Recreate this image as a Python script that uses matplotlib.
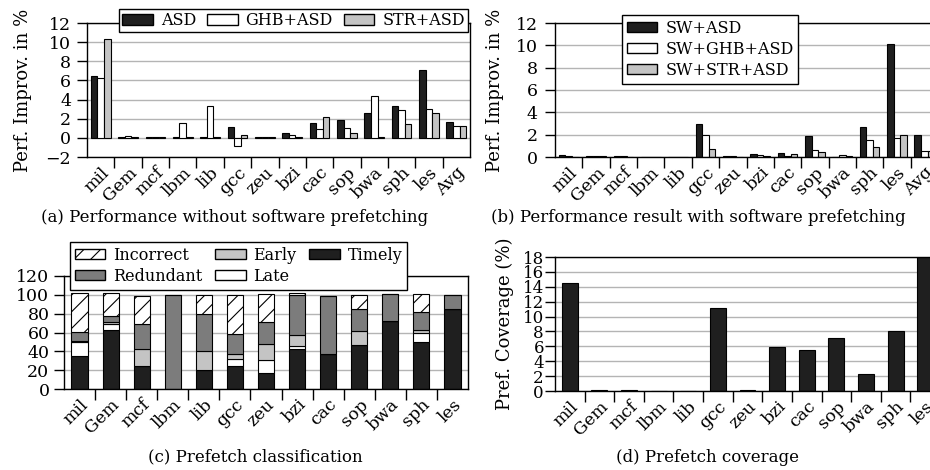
import numpy as np
import matplotlib.pyplot as plt
from matplotlib.patches import Patch
from matplotlib.transforms import ScaledTranslation

plt.rcParams['font.family'] = 'DejaVu Serif'
plt.rcParams['font.size'] = 12.5
plt.rcParams['hatch.linewidth'] = 0.8

bench = ["mil", "Gem", "mcf", "lbm", "lib", "gcc", "zeu", "bzi", "cac", "sop", "bwa", "sph", "les"]
bench_avg = bench + ["Avg"]

# (a) performance without software prefetching
asd = [6.5, 0.05, 0.1, 0.05, 0.05, 1.1, 0.1, 0.5, 1.6, 1.85, 2.6, 3.3, 7.1, 1.65]
ghb_asd = [6.3, 0.2, 0.1, 1.6, 3.3, -0.8, 0.1, 0.35, 0.9, 1.0, 4.35, 2.9, 3.0, 1.2]
str_asd = [10.3, 0.1, 0.05, 0.05, 0.05, 0.35, 0.05, 0.1, 2.2, 0.5, 0.05, 1.4, 2.6, 1.2]

# (b) performance with software prefetching
sw_asd = [0.15, 0.05, 0.08, 0.02, 0.02, 3.0, 0.05, 0.3, 0.35, 1.85, 0.03, 2.65, 10.1, 2.0]
sw_ghb_asd = [0.05, 0.1, 0.05, 0.02, 0.02, 2.0, 0.05, 0.15, 0.1, 0.65, 0.15, 1.5, 1.7, 0.55]
sw_str_asd = [0.03, 0.05, 0.02, 0.02, 0.02, 0.7, 0.03, 0.05, 0.3, 0.45, 0.05, 0.9, 2.0, 0.5]

# (c) prefetch classification (%)
timely = [35, 63, 24, 0, 20, 24, 17, 42, 37, 47, 72, 50, 85]
late = [15, 6, 0, 0, 0, 8, 14, 4, 0, 0, 0, 9, 0]
early = [0.5, 2, 18, 0, 20, 5, 17, 11, 0, 15, 0, 4, 0]
redundant = [10, 6, 27, 100, 40, 21, 23, 43, 62, 23, 29, 19, 15]
incorrect = [41, 25, 30, 0, 20, 42, 30, 2, 0, 15, 0, 19, 0]

# (d) prefetch coverage (%)
coverage = [14.45, 0.15, 0.2, 0.05, 0.05, 11.2, 0.2, 5.87, 5.46, 7.07, 2.24, 8.06, 18.5]

BLACK = '#1f1f1f'
LGRAY = '#c4c4c4'
DGRAY = '#7c7c7c'
LEG_FS = 11.5
CAP_FS = 12

fig = plt.figure(figsize=(9.3, 4.7), dpi=100)
shift = ScaledTranslation(-5 / 72, 0, fig.dpi_scale_trans)


def style_axis(ax, labels, ylim, yticks, ypad):
    n = len(labels)
    ax.set_xlim(-0.5, n - 0.5)
    ax.set_ylim(*ylim)
    ax.set_yticks(yticks)
    ax.set_xticks(np.arange(n - 1) + 0.5)
    ax.set_xticklabels([])
    ax.set_xticks(np.arange(n), minor=True)
    ax.set_xticklabels(labels, minor=True, rotation=45, ha='right', rotation_mode='anchor')
    for lab in ax.get_xticklabels(minor=True):
        lab.set_transform(lab.get_transform() + shift)
    ax.tick_params(axis='x', which='major', length=8, width=1)
    ax.tick_params(axis='x', which='minor', length=0, pad=5)
    ax.tick_params(axis='y', length=7.5, width=1, pad=ypad)
    ax.yaxis.grid(True, color='#b4b4b4', lw=1)
    ax.set_axisbelow(True)
    for s in ax.spines.values():
        s.set_linewidth(1)


def grouped(ax, series, colors):
    x = np.arange(len(series[0]))
    w = 0.24
    for i, (vals, c) in enumerate(zip(series, colors)):
        ax.bar(x + (i - 1) * w, vals, w, color=c, edgecolor='black', lw=0.8)


leg_kw = dict(bbox_transform=fig.transFigure, fancybox=False, framealpha=1,
              edgecolor='black', handlelength=1.9, handleheight=0.6,
              handletextpad=0.5, borderaxespad=0, fontsize=LEG_FS)

# (a)
ax1 = fig.add_axes([87 / 930, 1 - 157 / 470, 383 / 930, 134 / 470])
grouped(ax1, [asd, ghb_asd, str_asd], [BLACK, 'white', LGRAY])
style_axis(ax1, bench_avg, (-2, 12), np.arange(-2, 13, 2), 4)
ax1.set_yticklabels(['\u22122'] + [str(v) for v in range(0, 13, 2)])
ax1.set_ylabel("Perf. Improv. in %", fontsize=13, labelpad=10)
ax1.legend(handles=[Patch(fc=BLACK, ec='black', label='ASD'),
                    Patch(fc='white', ec='black', label='GHB+ASD'),
                    Patch(fc=LGRAY, ec='black', label='STR+ASD')],
           ncol=3, loc='upper right', bbox_to_anchor=(468 / 930, 1 - 9 / 470),
           borderpad=0.2, columnspacing=0.7, **leg_kw)

# (b)
ax2 = fig.add_axes([555 / 930, 1 - 157 / 470, 383 / 930, 134 / 470])
grouped(ax2, [sw_asd, sw_ghb_asd, sw_str_asd], [BLACK, 'white', LGRAY])
style_axis(ax2, bench_avg, (0, 12), np.arange(0, 13, 2), 5)
ax2.set_ylabel("Perf. Improv. in %", fontsize=13, labelpad=8)
ax2.legend(handles=[Patch(fc=BLACK, ec='black', label='SW+ASD'),
                    Patch(fc='white', ec='black', label='SW+GHB+ASD'),
                    Patch(fc=LGRAY, ec='black', label='SW+STR+ASD')],
           loc='upper left', bbox_to_anchor=(622 / 930, 1 - 15 / 470),
           borderpad=0.3, labelspacing=0.25, **leg_kw)

# (c)
ax3 = fig.add_axes([64 / 930, 1 - 389 / 470, 404 / 930, 113 / 470])
x = np.arange(len(bench))
bottom = np.zeros(len(bench))
for vals, fc, hatch in [(timely, BLACK, None), (late, 'white', None), (early, LGRAY, None),
                        (redundant, DGRAY, None), (incorrect, 'white', '//')]:
    ax3.bar(x, vals, 0.52, bottom=bottom, color=fc, edgecolor='black', lw=0.8, hatch=hatch)
    bottom += np.array(vals)
style_axis(ax3, bench, (0, 120), np.arange(0, 121, 20), 3)
ax3.legend(handles=[Patch(fc='white', ec='black', hatch='//', label='Incorrect'),
                    Patch(fc=DGRAY, ec='black', label='Redundant'),
                    Patch(fc=LGRAY, ec='black', label='Early'),
                    Patch(fc='white', ec='black', label='Late'),
                    Patch(fc=BLACK, ec='black', label='Timely')],
           ncol=3, loc='upper left', bbox_to_anchor=(70 / 930, 1 - 242 / 470),
           borderpad=0.3, labelspacing=0.25, columnspacing=0.8, **leg_kw)

# (d)
ax4 = fig.add_axes([555 / 930, 1 - 391 / 470, 385 / 930, 134 / 470])
ax4.bar(np.arange(len(bench)), coverage, 0.54, color=BLACK, edgecolor='black', lw=0.8)
style_axis(ax4, bench, (0, 18), np.arange(0, 19, 2), 0.5)
ax4.tick_params(axis='y', labelsize=12)
ax4.set_ylabel("Pref. Coverage (%)", fontsize=13, labelpad=6)

fig.text(235 / 930, 1 - 218 / 470, "(a) Performance without software prefetching",
         ha='center', va='center', fontsize=CAP_FS)
fig.text(698 / 930, 1 - 218 / 470, "(b) Performance result with software prefetching",
         ha='center', va='center', fontsize=CAP_FS)
fig.text(255 / 930, 1 - 457 / 470, "(c) Prefetch classification",
         ha='center', va='center', fontsize=CAP_FS)
fig.text(708 / 930, 1 - 457 / 470, "(d) Prefetch coverage",
         ha='center', va='center', fontsize=CAP_FS)

fig.savefig("out.png", dpi=100)
